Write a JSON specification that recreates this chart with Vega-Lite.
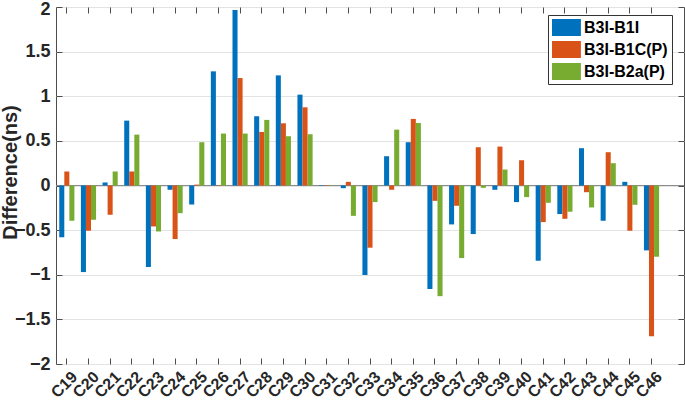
{
  "$schema": "https://vega.github.io/schema/vega-lite/v6.json",
  "width": 628,
  "height": 357,
  "autosize": {"type": "none"},
  "padding": {"left": 56, "top": 7, "right": 1, "bottom": 41},
  "background": "white",
  "config": {
    "font": "Liberation Sans",
    "view": {"stroke": "#4d4d4d", "strokeWidth": 1},
    "axis": {"labelFont": "Liberation Sans", "labelFontWeight": "bold", "labelColor": "#262626", "titleFont": "Liberation Sans", "titleFontWeight": "bold", "titleColor": "#262626", "domain": false, "tickColor": "#4d4d4d", "tickWidth": 1}
  },
  "data": {"values": [
    {"cat":"C19","series":"B3I-B1I","value":-0.58},{"cat":"C19","series":"B3I-B1C(P)","value":0.157},{"cat":"C19","series":"B3I-B2a(P)","value":-0.395},
    {"cat":"C20","series":"B3I-B1I","value":-0.97},{"cat":"C20","series":"B3I-B1C(P)","value":-0.507},{"cat":"C20","series":"B3I-B2a(P)","value":-0.384},
    {"cat":"C21","series":"B3I-B1I","value":0.034},{"cat":"C21","series":"B3I-B1C(P)","value":-0.328},{"cat":"C21","series":"B3I-B2a(P)","value":0.157},
    {"cat":"C22","series":"B3I-B1I","value":0.727},{"cat":"C22","series":"B3I-B1C(P)","value":0.157},{"cat":"C22","series":"B3I-B2a(P)","value":0.57},
    {"cat":"C23","series":"B3I-B1I","value":-0.913},{"cat":"C23","series":"B3I-B1C(P)","value":-0.459},{"cat":"C23","series":"B3I-B2a(P)","value":-0.515},
    {"cat":"C24","series":"B3I-B1I","value":-0.048},{"cat":"C24","series":"B3I-B1C(P)","value":-0.6},{"cat":"C24","series":"B3I-B2a(P)","value":-0.31},
    {"cat":"C25","series":"B3I-B1I","value":-0.213},{"cat":"C25","series":"B3I-B1C(P)","value":0.01},{"cat":"C25","series":"B3I-B2a(P)","value":0.485},
    {"cat":"C26","series":"B3I-B1I","value":1.279},{"cat":"C26","series":"B3I-B1C(P)","value":0.005},{"cat":"C26","series":"B3I-B2a(P)","value":0.582},
    {"cat":"C27","series":"B3I-B1I","value":1.965},{"cat":"C27","series":"B3I-B1C(P)","value":1.204},{"cat":"C27","series":"B3I-B2a(P)","value":0.582},
    {"cat":"C28","series":"B3I-B1I","value":0.776},{"cat":"C28","series":"B3I-B1C(P)","value":0.6},{"cat":"C28","series":"B3I-B2a(P)","value":0.735},
    {"cat":"C29","series":"B3I-B1I","value":1.234},{"cat":"C29","series":"B3I-B1C(P)","value":0.697},{"cat":"C29","series":"B3I-B2a(P)","value":0.552},
    {"cat":"C30","series":"B3I-B1I","value":1.018},{"cat":"C30","series":"B3I-B1C(P)","value":0.876},{"cat":"C30","series":"B3I-B2a(P)","value":0.574},
    {"cat":"C31","series":"B3I-B1I","value":0.005},{"cat":"C31","series":"B3I-B1C(P)","value":0.005},{"cat":"C31","series":"B3I-B2a(P)","value":0.005},
    {"cat":"C32","series":"B3I-B1I","value":-0.03},{"cat":"C32","series":"B3I-B1C(P)","value":0.041},{"cat":"C32","series":"B3I-B2a(P)","value":-0.34},
    {"cat":"C33","series":"B3I-B1I","value":-1.003},{"cat":"C33","series":"B3I-B1C(P)","value":-0.697},{"cat":"C33","series":"B3I-B2a(P)","value":-0.186},
    {"cat":"C34","series":"B3I-B1I","value":0.328},{"cat":"C34","series":"B3I-B1C(P)","value":-0.048},{"cat":"C34","series":"B3I-B2a(P)","value":0.626},
    {"cat":"C35","series":"B3I-B1I","value":0.485},{"cat":"C35","series":"B3I-B1C(P)","value":0.746},{"cat":"C35","series":"B3I-B2a(P)","value":0.7},
    {"cat":"C36","series":"B3I-B1I","value":-1.16},{"cat":"C36","series":"B3I-B1C(P)","value":-0.172},{"cat":"C36","series":"B3I-B2a(P)","value":-1.24},
    {"cat":"C37","series":"B3I-B1I","value":-0.436},{"cat":"C37","series":"B3I-B1C(P)","value":-0.227},{"cat":"C37","series":"B3I-B2a(P)","value":-0.813},
    {"cat":"C38","series":"B3I-B1I","value":-0.544},{"cat":"C38","series":"B3I-B1C(P)","value":0.429},{"cat":"C38","series":"B3I-B2a(P)","value":-0.026},
    {"cat":"C39","series":"B3I-B1I","value":-0.048},{"cat":"C39","series":"B3I-B1C(P)","value":0.436},{"cat":"C39","series":"B3I-B2a(P)","value":0.179},
    {"cat":"C40","series":"B3I-B1I","value":-0.186},{"cat":"C40","series":"B3I-B1C(P)","value":0.283},{"cat":"C40","series":"B3I-B2a(P)","value":-0.13},
    {"cat":"C41","series":"B3I-B1I","value":-0.843},{"cat":"C41","series":"B3I-B1C(P)","value":-0.41},{"cat":"C41","series":"B3I-B2a(P)","value":-0.194},
    {"cat":"C42","series":"B3I-B1I","value":-0.32},{"cat":"C42","series":"B3I-B1C(P)","value":-0.373},{"cat":"C42","series":"B3I-B2a(P)","value":-0.295},
    {"cat":"C43","series":"B3I-B1I","value":0.418},{"cat":"C43","series":"B3I-B1C(P)","value":-0.075},{"cat":"C43","series":"B3I-B2a(P)","value":-0.246},
    {"cat":"C44","series":"B3I-B1I","value":-0.395},{"cat":"C44","series":"B3I-B1C(P)","value":0.373},{"cat":"C44","series":"B3I-B2a(P)","value":0.25},
    {"cat":"C45","series":"B3I-B1I","value":0.041},{"cat":"C45","series":"B3I-B1C(P)","value":-0.507},{"cat":"C45","series":"B3I-B2a(P)","value":-0.216},
    {"cat":"C46","series":"B3I-B1I","value":-0.727},{"cat":"C46","series":"B3I-B1C(P)","value":-1.689},{"cat":"C46","series":"B3I-B2a(P)","value":-0.798}
  ]},
  "layer": [
    {
      "mark": {"type": "rule", "color": "#8c8c8c", "strokeWidth": 1.2},
      "encoding": {"y": {"datum": 0, "type": "quantitative", "scale": {"domain": [-2, 2], "nice": false, "zero": false},
        "axis": {"orient": "left", "title": null, "labels": false, "ticks": false, "grid": true, "gridColor": "#e3e3e3", "gridWidth": 1, "values": [-2,-1.5,-1,-0.5,0,0.5,1,1.5,2]}}}
    },
    {
      "mark": {"type": "bar"},
      "encoding": {
        "x": {"field": "cat", "type": "nominal",
          "scale": {"domain": ["C19","C20","C21","C22","C23","C24","C25","C26","C27","C28","C29","C30","C31","C32","C33","C34","C35","C36","C37","C38","C39","C40","C41","C42","C43","C44","C45","C46","C47"], "paddingInner": 0.3, "paddingOuter": 0.15},
          "axis": {"orient": "bottom", "offset": -6, "title": null, "values": ["C19","C20","C21","C22","C23","C24","C25","C26","C27","C28","C29","C30","C31","C32","C33","C34","C35","C36","C37","C38","C39","C40","C41","C42","C43","C44","C45","C46"], "labelAngle": -45, "labelAlign": "right", "labelBaseline": "middle", "labelFontSize": 16, "tickSize": 6, "labelPadding": 10, "labelOffset": 8, "grid": false}},
        "xOffset": {"field": "series", "type": "nominal", "sort": ["B3I-B1I","B3I-B1C(P)","B3I-B2a(P)"], "scale": {"paddingInner": 0, "paddingOuter": 0}},
        "y": {"field": "value", "type": "quantitative",
          "scale": {"domain": [-2, 2], "nice": false, "zero": false},
          "axis": {"orient": "left", "offset": -6, "title": "Difference(ns)", "titleFontSize": 20, "values": [-2,-1.5,-1,-0.5,0,0.5,1,1.5,2], "format": ".1~f", "labelExpr": "replace(datum.label, '-', '\u2212')", "labelFontSize": 18, "labelOffset": {"condition": {"test": "datum.value == 2", "value": 2}, "value": 0}, "tickSize": 6, "labelPadding": 6, "grid": false, "titleX": -52, "titleY": 165, "titleBaseline": "middle", "titleAngle": 270}},
        "color": {"field": "series", "type": "nominal",
          "scale": {"domain": ["B3I-B1I","B3I-B1C(P)","B3I-B2a(P)"], "range": ["#0072BD","#D95319","#77AC30"]},
          "legend": {"title": null, "orient": "none", "legendX": 492, "legendY": 8, "direction": "vertical",
            "symbolType": "M-1,-1H2.4V1H-1Z", "symbolSize": 289, "symbolStrokeWidth": 0, "symbolOpacity": 1,
            "labelFont": "Liberation Sans", "labelFontWeight": "bold", "labelFontSize": 16, "labelColor": "#000", "labelOffset": 15,
            "rowPadding": 5, "padding": 4, "strokeColor": "#333", "fillColor": "white"}}
      }
    },
    {
      "mark": {"type": "point", "opacity": 0},
      "encoding": {
        "x": {"field": "cat", "type": "nominal",
          "scale": {"domain": ["C19","C20","C21","C22","C23","C24","C25","C26","C27","C28","C29","C30","C31","C32","C33","C34","C35","C36","C37","C38","C39","C40","C41","C42","C43","C44","C45","C46","C47"], "paddingInner": 0.3, "paddingOuter": 0.15},
          "axis": {"orient": "top", "offset": -6, "title": null, "labels": false, "tickSize": 6, "grid": false, "values": ["C19","C20","C21","C22","C23","C24","C25","C26","C27","C28","C29","C30","C31","C32","C33","C34","C35","C36","C37","C38","C39","C40","C41","C42","C43","C44","C45","C46"]}},
        "y": {"field": "value", "type": "quantitative",
          "scale": {"domain": [-2, 2], "nice": false, "zero": false},
          "axis": {"orient": "right", "offset": -6, "title": null, "labels": false, "tickSize": 6, "grid": false, "values": [-2,-1.5,-1,-0.5,0,0.5,1,1.5,2]}}
      }
    }
  ],
  "resolve": {"axis": {"x": "independent", "y": "independent"}}
}
